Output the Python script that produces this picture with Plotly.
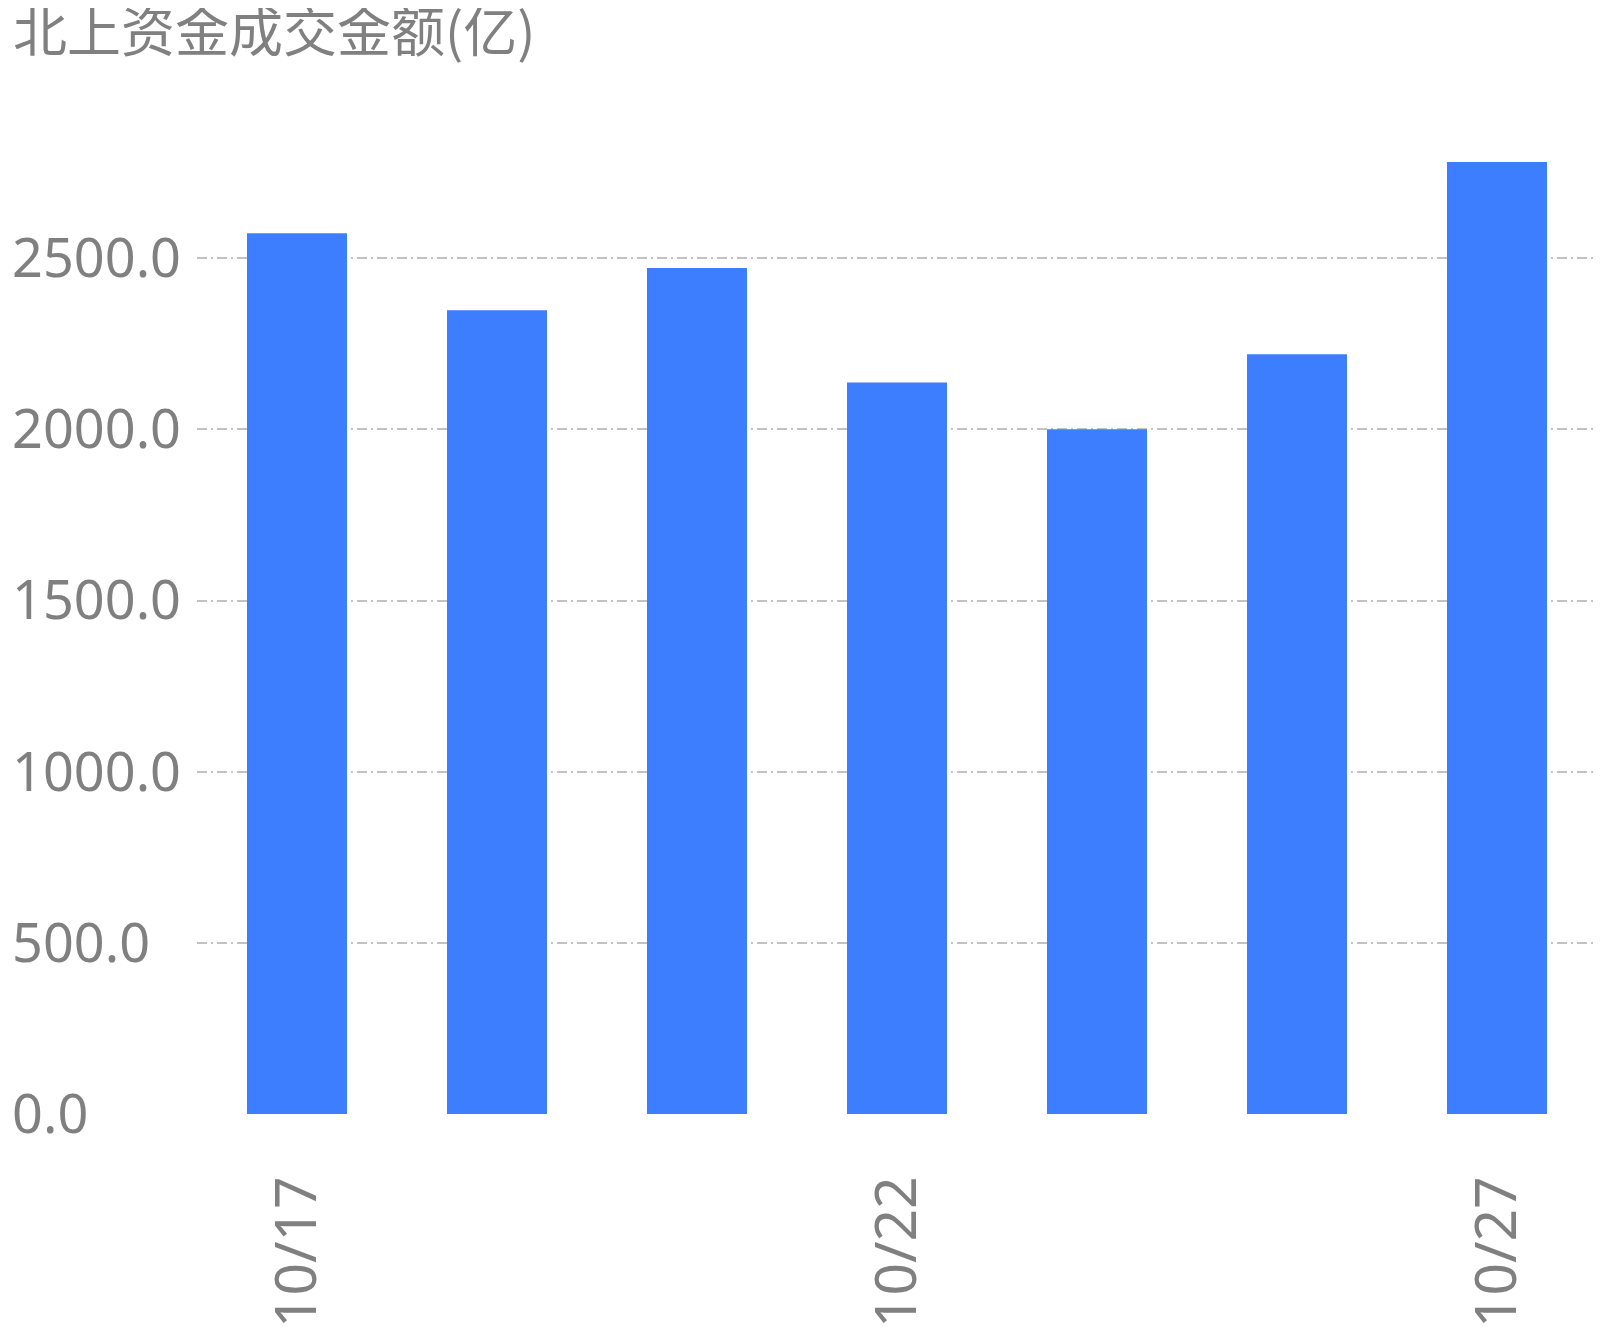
import plotly.graph_objects as go

dates = ["10/17", "10/20", "10/21", "10/22", "10/23", "10/24", "10/27"]
values = [2573, 2348, 2471, 2137, 2000, 2219, 2781]
x_tick_dates = ["10/17", "10/22", "10/27"]
y_ticks = [0, 500, 1000, 1500, 2000, 2500]
title_text = "北上资金成交金额(亿)"

FS = "\u2007"
maxlen = max(len(f"{v:.1f}") for v in y_ticks)
y_ticktext = [f"{v:.1f}" + FS * (maxlen - len(f"{v:.1f}")) for v in y_ticks]

fig = go.Figure(go.Bar(x=dates, y=values, marker=dict(color="#3d7dff", line=dict(width=0)), width=0.5))

fig.update_layout(
    width=1606, height=1330,
    margin=dict(l=189, r=17, t=79, b=224, autoexpand=False),
    paper_bgcolor="white", plot_bgcolor="white",
    showlegend=False,
    title=dict(text=title_text, x=0, xref="container", xanchor="left",
               y=1, yref="container", yanchor="top", pad=dict(l=5, t=6),
               font=dict(family="Noto Sans CJK SC", size=54, color="#808080")),
    font=dict(family="Noto Sans", color="#808080"),
)
fig.update_xaxes(type="category", range=[-0.5, 6.5], tickmode="array", tickvals=x_tick_dates,
                 ticktext=x_tick_dates, tickangle=-90, showgrid=False, showline=False, ticks="",
                 automargin=False,
                 tickfont=dict(family="Noto Sans", size=57, color="#808080"), ticklabelstandoff=50)
fig.update_yaxes(range=[0, 3000], tickmode="array", tickvals=y_ticks, ticktext=y_ticktext,
                 showgrid=True, gridcolor="#c2c2c2", gridwidth=1.8, griddash="10px,4px,2px,4px",
                 zeroline=False, showline=False, ticks="", automargin=False,
                 tickfont=dict(family="Noto Sans", size=54, color="#808080"), ticklabelstandoff=15)

fig.write_html("out.html")
